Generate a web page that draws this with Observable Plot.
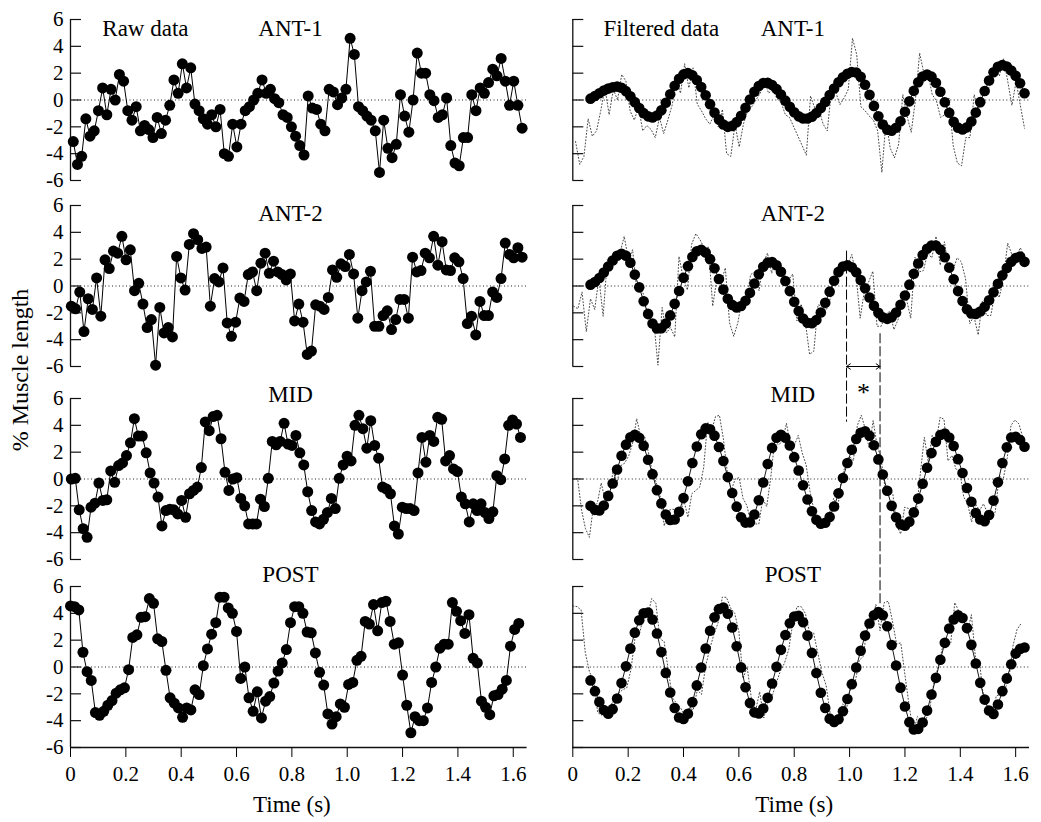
<!DOCTYPE html>
<html><head><meta charset="utf-8">
<script src="https://cdn.jsdelivr.net/npm/d3@7"></script>
<script src="https://cdn.jsdelivr.net/npm/@observablehq/plot@0.6"></script>
<style>
body{margin:0;background:#fff;}
#wrap{position:relative;width:1041px;height:822px;overflow:hidden;background:#fff;font-family:'Liberation Serif','Times New Roman',serif;}
.panel{position:absolute;}
#ylab{position:absolute;left:20px;top:370px;transform:translate(-50%,-50%) rotate(-90deg);font-size:24px;line-height:1;white-space:nowrap;color:#000;}
</style></head><body><div id="wrap"><div id="ylab">% Muscle length</div></div>
<script>
// ---- data ----
const panelNames = ["ANT-1", "ANT-2", "MID", "POST"];
const columnTitles = ["Raw data", "Filtered data"];
const yTicks = [-6, -4, -2, 0, 2, 4, 6];
const xTicks = [0, 0.2, 0.4, 0.6, 0.8, 1.0, 1.2, 1.4, 1.6];
const xLabel = "Time (s)";

const rawAnt1 = [-3.1,-4.8,-4.2,-1.4,-2.7,-2.3,-0.8,0.9,-1.1,0.8,
 0.0,1.9,1.4,-0.8,-1.5,-0.5,-2.3,-1.9,-2.2,-2.8,
 -1.3,-2.5,-1.5,-0.4,1.5,0.5,2.7,0.9,2.4,-0.3,
 -0.8,-1.4,-1.8,-1.1,-2.0,-0.7,-4.0,-4.2,-1.8,-3.5,
 -1.8,-0.8,-0.5,0.0,0.5,1.5,0.5,0.8,0.1,-0.2,
 -1.1,-1.3,-2.0,-2.7,-3.4,-4.1,
 0.3,-0.6,-0.7,-1.8,-2.3,0.8,0.6,-0.35,0.15,0.8,
 4.6,3.4,-0.5,-0.8,-1.2,-1.5,-2.3,-5.4,-1.5,-3.6,
 -4.3,-3.3,0.4,-1.2,-2.4,0.0,3.5,2.0,2.0,0.4,
 -0.05,-1.3,-1.1,0.15,-3.4,-4.7,-4.9,-2.8,-2.8,0.4,
 -0.8,0.9,0.5,1.3,2.3,1.8,3.1,1.4,-0.4,1.4,-0.4,-2.1];
const rawAnt2 = [-1.5,-1.7,-0.45,-3.4,-0.95,-1.75,0.6,-2.25,1.95,1.3,
 2.6,2.45,3.7,1.95,2.7,-0.35,0.2,-1.35,-3.1,-2.5,
 -5.9,-1.6,-3.5,-3.1,-3.8,2.2,0.6,-0.3,3.1,3.9,
 3.45,2.8,2.9,-1.5,0.55,0.3,1.35,-2.75,-3.75,-2.7,
 -0.9,-1.15,0.85,1.05,-0.35,1.7,2.45,0.95,1.85,1.05,
 0.85,0.45,0.9,-2.6,-1.35,-2.7,
 -5.1,-4.85,-1.4,-1.5,-1.75,-0.85,1.2,0.65,1.65,1.45,
 2.35,0.9,-2.4,-0.35,0.3,1.1,-3.0,-3.0,-2.2,-1.85,
 -3.25,-2.5,-1.0,-1.0,-2.4,2.15,1.05,1.15,2.45,2.1,
 3.7,1.55,3.3,1.2,1.15,2.1,1.8,0.55,-2.8,-2.25,
 -3.65,-1.15,-2.2,-2.2,-0.45,-0.85,0.55,3.2,2.35,2.1,2.85,2.15];
const rawMid = [0.0,0.05,-2.3,-3.7,-4.35,-2.1,-1.8,-0.3,-1.6,-1.55,
 0.6,-0.25,1.0,1.2,1.75,2.7,4.5,3.2,3.2,1.95,
 0.45,-0.3,-1.35,-3.5,-2.35,-2.25,-2.3,-2.6,-1.6,-2.85,
 -1.1,-0.85,-0.6,0.85,4.25,3.6,4.65,4.75,3.0,0.5,
 -0.85,0.0,0.1,-1.45,-2.0,-3.35,-3.35,-3.35,-1.5,-2.05,
 0.05,2.8,2.55,2.8,4.15,2.6,2.5,3.25,1.95,1.05,-0.95,
 -2.35,-3.2,-3.35,-3.0,-2.5,-1.45,-2.2,0.05,1.05,1.7,
 1.35,4.0,4.75,3.75,2.3,4.35,2.5,1.55,-0.6,-0.75,
 -1.1,-3.5,-4.1,-2.1,-2.2,-2.2,-2.35,0.45,3.1,1.25,
 3.25,2.8,4.6,4.45,1.35,1.75,0.75,0.55,-1.35,-1.85,
 -3.2,-1.85,-2.35,-1.85,-2.5,-2.95,-2.45,0.25,-0.05,1.5,
 4.0,4.4,4.1,3.1];
const rawPost = [4.55,4.5,4.25,1.1,-0.35,-1.0,-3.4,-3.6,-3.3,-2.85,
 -2.5,-1.95,-1.7,-1.55,-0.2,2.2,2.4,3.7,3.75,5.1,
 4.75,2.1,1.9,-0.25,-2.3,-2.7,-3.05,-3.75,-3.05,-3.2,
 -1.7,-2.05,0.1,1.35,2.45,3.3,5.2,5.2,4.4,4.0,
 2.65,-0.85,0.0,-2.3,-3.3,-1.85,-3.8,-2.55,-2.2,-1.2,
 -0.3,0.3,1.3,3.3,4.5,4.5,4.0,
 2.6,2.55,1.05,-0.4,-1.35,-3.5,-4.25,-3.7,-2.75,-3.0,
 -1.3,-1.15,0.5,0.8,3.4,3.2,4.65,2.7,4.8,4.9,
 3.4,1.7,1.8,-0.6,-2.85,-4.9,-3.7,-4.0,-4.0,-3.05,
 -1.15,0.0,1.4,1.7,1.7,4.8,4.15,3.45,2.5,3.9,
 0.65,0.3,-2.55,-3.0,-3.55,-2.15,-2.05,-1.65,-1.0,1.55,2.8,3.25];
const rawStart = [0.01, 0.003, 0.003, 0.0];
const rawEnd = [1.632, 1.632, 1.626, 1.62];

const filtAnt1 = [0.1,0.3,0.5,0.7,0.85,0.95,1.0,
 0.91,0.66,0.28,-0.16,-0.60,-0.98,-1.22,
 -1.3,-1.15,-0.77,-0.21,0.43,1.06,1.58,1.91,
 2.0,1.85,1.49,0.96,0.35,-0.31,-0.94,-1.46,-1.83,-2.0,
 -1.93,-1.65,-1.18,-0.58,0.04,0.61,1.04,1.27,
 1.28,1.12,0.82,0.41,-0.05,-0.51,-0.91,-1.22,-1.38,
 -1.38,-1.24,-0.97,-0.59,-0.14,0.37,0.86,1.32,1.70,1.95,2.09,
 2.05,1.73,1.14,0.39,-0.44,-1.21,-1.83,-2.21,
 -2.29,-2.07,-1.58,-0.88,-0.10,0.68,1.32,1.75,
 1.9,1.74,1.29,0.61,-0.17,-0.95,-1.63,-2.06,
 -2.2,-2.04,-1.60,-0.94,-0.16,0.67,1.45,2.07,2.48,
 2.6,2.5,2.2,1.8,1.25,0.5];
const filtAnt2 = [0.1,0.3,0.6,1.0,1.45,1.9,2.25,2.4,
 2.25,1.73,0.85,-0.10,-1.14,-2.08,-2.80,-3.16,
 -3.15,-2.80,-2.19,-1.33,-0.37,0.61,1.48,2.17,2.59,
 2.70,2.49,2.00,1.32,0.52,-0.27,-0.95,-1.41,-1.6,
 -1.49,-1.10,-0.51,0.19,0.87,1.43,1.74,
 1.78,1.55,1.06,0.37,-0.38,-1.17,-1.87,-2.42,-2.74,
 -2.78,-2.53,-1.98,-1.25,-0.42,0.39,1.05,1.45,1.55,
 1.39,1.02,0.44,-0.17,-0.86,-1.48,-2.0,-2.33,-2.45,
 -2.33,-1.98,-1.40,-0.71,0.10,0.91,1.68,2.31,2.78,3.02,
 3.01,2.71,2.14,1.37,0.50,-0.38,-1.12,-1.73,-2.05,
 -2.08,-1.90,-1.55,-1.06,-0.47,0.17,0.80,1.34,1.80,2.09,2.2,1.8];
const filtMid = [-2.0,-2.3,
 -2.35,-1.98,-1.26,-0.34,0.71,1.73,2.56,3.11,3.3,
 3.08,2.47,1.44,0.36,-0.83,-1.82,-2.65,-3.06,
 -3.02,-2.45,-1.42,-0.17,1.19,2.42,3.34,3.77,
 3.70,3.23,2.39,1.34,0.14,-1.04,-2.06,-2.85,-3.25,
 -3.23,-2.65,-1.58,-0.26,1.12,2.32,3.08,
 3.3,3.07,2.50,1.63,0.63,-0.47,-1.53,-2.40,-3.04,-3.33,
 -3.26,-2.83,-2.05,-1.07,0.07,1.19,2.18,2.98,3.45,
 3.55,3.22,2.52,1.46,0.34,-0.88,-2.00,-2.85,-3.38,
 -3.49,-3.18,-2.49,-1.46,-0.35,0.84,1.93,2.77,3.28,
 3.39,3.09,2.46,1.48,0.45,-0.67,-1.70,-2.53,-3.02,
 -3.14,-2.68,-1.61,-0.25,1.19,2.37,3.09,3.15,2.9,2.4];
const filtPost = [-1.0,-1.8,-2.6,-3.2,
 -3.49,-3.14,-2.35,-1.20,0.05,1.37,2.56,3.48,4.01,
 4.06,3.54,2.50,1.11,-0.44,-1.90,-3.06,-3.76,
 -3.87,-3.48,-2.62,-1.37,-0.04,1.38,2.70,3.70,4.31,
 4.43,3.97,2.94,1.55,-0.03,-1.51,-2.69,-3.38,
 -3.47,-3.09,-2.30,-1.23,0.01,1.28,2.38,3.26,3.76,
 3.81,3.33,2.34,1.05,-0.45,-1.92,-3.06,-3.85,
 -4.1,-3.89,-3.30,-2.39,-1.28,-0.04,1.21,2.34,3.24,3.86,4.1,
 3.86,3.04,1.64,0.11,-1.54,-2.94,-4.11,-4.66,
 -4.61,-4.14,-3.25,-2.05,-0.81,0.54,1.80,2.87,3.54,3.85,
 3.65,2.90,1.65,0.26,-1.18,-2.43,-3.24,-3.5,
 -2.8,-1.8,-0.85,0.2,1.0,1.35,1.45];
const filtStart = 0.064;
const filtStep = 0.016;

// annotation (phase shift between ANT-2 and POST)
const annoT = [0.989, 1.11];
const annoTop = [2.6, -3.56];
const annoBottom = [-10.15, -23.9];
const arrowY = -6;
const starLabel = "*";
const starT = 1.05;
const starY = -8.6;

// ---- layout ----
const rawSeries = [rawAnt1, rawAnt2, rawMid, rawPost];
const filtSeries = [filtAnt1, filtAnt2, filtMid, filtPost];
const frameTop = [18.7, 204.8, 398.3, 585.5];
const frameH = 161;
const labelY = [4.79, 4.87, 5.76, 6.34];
const labelT = 0.795;
const titleT = [0.115, 0.111];
const tickLen = 11 / 276.7;
const font = "'Liberation Serif','Times New Roman',serif";

function panel(row, col) {
  const raw = rawSeries[row];
  const rawData = raw.map((v, i) => ({t: rawStart[row] + i * (rawEnd[row] - rawStart[row]) / (raw.length - 1), v}));
  const filtData = filtSeries[row].map((v, k) => ({t: filtStart + k * filtStep, v}));
  const left = col === 0;
  const mTop = 20, mBottom = row === 3 ? 76 : 6;
  const width = left ? 540 : 501;
  const marks = [
    Plot.ruleY([0], {x1: 0, x2: 1.65, stroke: "#222", strokeWidth: 1, strokeDasharray: "1,2.5"}),
    Plot.ruleX([0], {y1: -6, y2: 6, stroke: "#111", strokeWidth: 1.3}),
    Plot.ruleY(yTicks, {y: d => d, x1: 0, x2: tickLen, stroke: "#111", strokeWidth: 1.2})
  ];
  if (left) {
    marks.push(Plot.axisY(yTicks, {tickSize: 0, tickPadding: 7, fontSize: 21, tickFormat: d => String(d), label: null}));
    marks.push(Plot.line(rawData, {x: "t", y: "v", stroke: "#000", strokeWidth: 1}));
    marks.push(Plot.dot(rawData, {x: "t", y: "v", r: 5.5, fill: "#000", stroke: "none"}));
  } else {
    marks.push(Plot.line(rawData, {x: "t", y: "v", stroke: "#333", strokeWidth: 0.9, strokeDasharray: "1,2.2"}));
    marks.push(Plot.line(filtData, {x: "t", y: "v", stroke: "#000", strokeWidth: 0.9}));
    marks.push(Plot.dot(filtData, {x: "t", y: "v", r: 5.3, fill: "#000", stroke: "none"}));
  }
  if (row === 0) {
    marks.push(Plot.text([columnTitles[col]], {x: titleT[col], y: labelY[0], text: d => d, textAnchor: "start", lineAnchor: "bottom", fontSize: 23, fill: "#000"}));
  }
  marks.push(Plot.text([panelNames[row]], {x: labelT, y: labelY[row], text: d => d, textAnchor: "middle", lineAnchor: "bottom", fontSize: 23, fill: "#000"}));
  if (row === 3) {
    marks.push(Plot.ruleY([-6], {x1: 0, x2: 1.65, stroke: "#111", strokeWidth: 1.3}));
    marks.push(Plot.axisX(xTicks, {tickSize: 10, tickPadding: 9, fontSize: 21, tickFormat: d => d === 0 ? "0" : d.toFixed(1), label: null}));
    marks.push(Plot.text([xLabel], {x: 0.8, y: -6, dy: 64, text: d => d, textAnchor: "middle", lineAnchor: "bottom", fontSize: 23, fill: "#000"}));
  }
  if (row === 1 && !left) {
    const segs = annoT.map((t, i) => ({t, y1: annoTop[i], y2: annoBottom[i]}));
    marks.push(Plot.ruleX(segs, {x: "t", y1: "y1", y2: "y2", stroke: "#000", strokeWidth: 1, strokeDasharray: "10,3"}));
    const mid = (annoT[0] + annoT[1]) / 2;
    marks.push(Plot.arrow(annoT, {x1: () => mid, x2: d => d, y1: () => arrowY, y2: () => arrowY, stroke: "#000", strokeWidth: 1, headLength: 7, headAngle: 70}));
    marks.push(Plot.text([starLabel], {x: starT, y: starY, text: d => d, textAnchor: "middle", lineAnchor: "bottom", fontSize: 26, fill: "#000"}));
  }
  return Plot.plot({
    width,
    height: frameH + mTop + mBottom,
    marginLeft: left ? 70 : 32.3,
    marginRight: left ? 13.4 : 12,
    marginTop: mTop,
    marginBottom: mBottom,
    x: {domain: [0, 1.65], axis: null},
    y: {domain: [-6, 6], axis: null},
    style: {fontFamily: font, fontSize: "20px", color: "#000", background: "transparent", overflow: "visible"},
    marks
  });
}

const wrap = document.getElementById("wrap");
for (let row = 0; row < 4; row++) {
  for (let col = 0; col < 2; col++) {
    const div = document.createElement("div");
    div.className = "panel";
    div.style.left = (col === 0 ? 0 : 540) + "px";
    div.style.top = (frameTop[row] - 20) + "px";
    div.style.width = (col === 0 ? 540 : 501) + "px";
    div.appendChild(panel(row, col));
    wrap.appendChild(div);
  }
}
</script>
</body></html>
